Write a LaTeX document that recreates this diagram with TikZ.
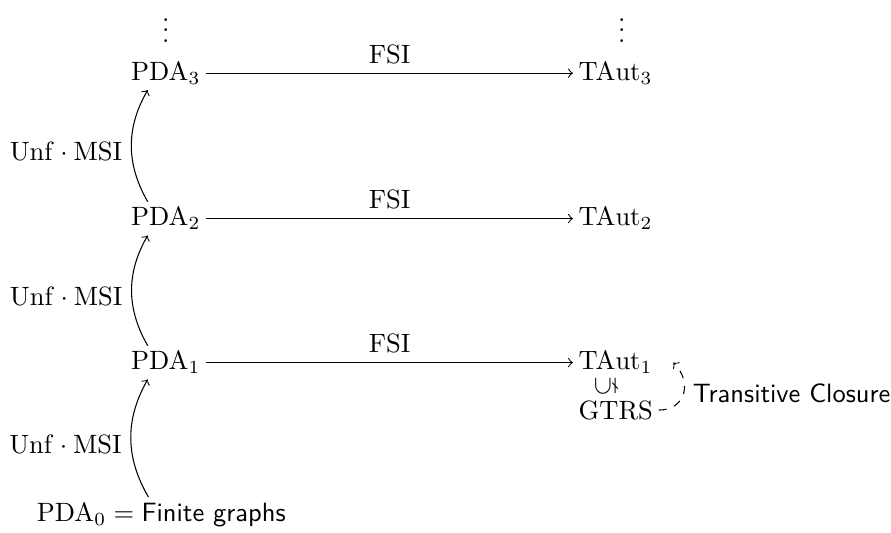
\documentclass[tikz,border=0pt]{standalone}
\usepackage{amsmath}
\usepackage{amssymb}
\usepackage{graphicx}
\usepackage{tikz}
\usetikzlibrary{arrows}
\tikzstyle{obj}=[inner sep=2pt]
\tikzstyle{lift}=[->, bend left=30]
\newcommand{\pdaobj}[1]{$\mathrm{PDA}_{#1}$}
\newcommand{\tautobj}[1]{$\mathrm{TAut}_{#1}$}
\newcommand{\unfmsi}{$\mathrm{Unf}\cdot\mathrm{MSI}$}

\begin{document}
\begin{tikzpicture}[>=to]
                    \useasboundingbox (0,0) rectangle (11.82,7.06);
                    % left column
                    \node[obj] (pda3) at (2.20,6.09) {\pdaobj{3}};
                    \node[obj] (pda2) at (2.20,4.16) {\pdaobj{2}};
                    \node[obj] (pda1) at (2.20,2.25) {\pdaobj{1}};
                    \node[obj] (pda0) at (2.14,0.23) {$\mathrm{PDA}_0 = \text{\textsf{Finite graphs}}$};
                    \node[obj] (dotsl) at (2.20,6.76) {$\vdots$};
                    % right column
                    \node[obj, anchor=west] (taut3) at (7.60,6.09) {\tautobj{3}};
                    \node[obj, anchor=west] (taut2) at (7.60,4.16) {\tautobj{2}};
                    \node[obj, anchor=west] (taut1) at (7.60,2.25) {\tautobj{1}};
                    \node[obj] (incl) at (8.04,1.94) {\rotatebox{90}{$\subsetneq$}};
                    \node[obj, anchor=west] (gtrs) at (7.60,1.62) {$\mathrm{GTRS}$};
                    \node[obj] (dotsr) at (8.25,6.76) {$\vdots$};
                    \path[->]
                        (pda3) edge node[above] {FSI} (taut3)
                        (pda2) edge node[above] {FSI} (taut2)
                        (pda1) edge node[above] {FSI} (taut1)
                    ;
                    \path
                        ([xshift=-1.7mm]pda0.north) edge[lift] node[left, pos=0.45] {\unfmsi} ([xshift=-2.4mm]pda1.south)
                        ([xshift=-2.4mm]pda1.north) edge[lift] node[left, pos=0.45] {\unfmsi} ([xshift=-2.4mm]pda2.south)
                        ([xshift=-2.4mm]pda2.north) edge[lift] node[left, pos=0.45] {\unfmsi} ([xshift=-2.4mm]pda3.south)
                    ;
                    \draw[->, dashed] (gtrs.east) to[out=0, in=-45, looseness=1.4]
                        node[right] {\textsf{Transitive Closure}} ([xshift=2mm]taut1.east);
                \end{tikzpicture}
\end{document}
